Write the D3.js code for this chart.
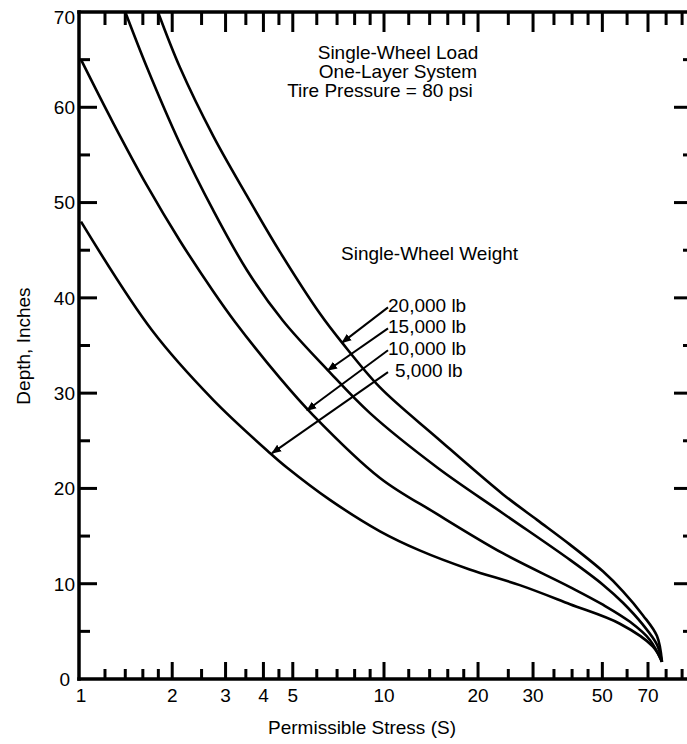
<!DOCTYPE html>
<html><head><meta charset="utf-8">
<script src="https://cdn.jsdelivr.net/npm/d3@7"></script>
<style>
body{margin:0;background:#fff}
svg{display:block}
text{font-family:"Liberation Sans",Arial,Helvetica,sans-serif;fill:#000}
</style>
</head><body>
<svg id="chart" width="687" height="744"></svg>
<script>
// ---- data ----
const weights = ["20,000 lb", "15,000 lb", "10,000 lb", "5,000 lb"];

const stress20k = [1.795, 2.12, 2.73, 3.53, 4.54, 6.16, 7.27, 9.7, 14.8, 24.0, 30.9, 39.4, 50.2, 58.2, 67.4, 74.8, 77.6];
const depth20k  = [70,    64.2, 57.0, 50.7, 44.8, 38.3, 35.3, 30.6, 25.3, 19.4, 16.7, 14.1, 11.3, 9.2, 6.7, 4.5, 1.8];

const stress15k = [1.40, 1.65, 2.12, 2.73, 3.53, 4.64, 6.53, 8.99, 14.8, 24.0, 39.4, 50.2, 58.2, 67.4, 74.8, 77.6];
const depth15k  = [70,   64.2, 56.2, 49.2, 42.9, 37.6, 32.4, 27.9, 22.2, 17.4, 12.5, 9.9, 8.0, 5.7, 3.6, 1.8];

const stress10k = [1.0, 1.275, 1.65, 2.12, 2.73, 3.22, 4.53, 5.83, 9.7, 14.8, 24.0, 39.4, 50.2, 61.3, 71.0, 77.6];
const depth10k  = [65,  58.4,  51.8, 46.0, 40.7, 37.5, 31.6, 27.7, 21.1, 17.3, 13.2, 9.65, 7.8, 6.0, 4.1, 1.8];

const stress5k = [1.0, 1.715, 2.73, 4.21, 4.78, 6.63, 9.7, 13.0, 18.8, 27.2, 39.4, 56.9, 72.6, 77.6];
const depth5k  = [48,  36.6,  29.3, 23.7, 22.2, 18.8, 15.5, 13.5, 11.5, 9.85, 7.85, 5.8, 3.4, 1.8];

const xLabelTicks = [1, 2, 3, 4, 5, 10, 20, 30, 50, 70];
const xMajorTicks = [2, 3, 4, 5, 10, 20, 30, 50, 70];
const xMinorTicks = [1.2, 1.4, 1.6, 1.8, 2.5, 3.5, 4.5, 6, 7, 8, 9, 12, 14, 16, 18, 25, 35, 40, 45, 60, 80, 90];
const yLabelTicks = [0, 10, 20, 30, 40, 50, 60, 70];
const yMinorTicks = [5, 15, 25, 35, 45, 55, 65];

const titleLines = ["Single-Wheel Load", "One-Layer System", "Tire Pressure = 80 psi"];
const legendTitle = "Single-Wheel Weight";
const xTitle = "Permissible Stress (S)";
const yTitle = "Depth, Inches";

// annotation arrows (tip on curve, tail at label), in data units
const arrowTipStress  = [7.27, 6.53, 5.57, 4.27];
const arrowTipDepth   = [35.3, 32.4, 28.2, 23.7];
const arrowTailStress = [10.3, 10.3, 10.3, 10.3];
const arrowTailDepth  = [39.0, 36.8, 34.5, 32.2];

// ---- scales ----
const x = d3.scaleLog().domain([1, 10, 70]).range([81, 384, 648]);
const y = d3.scaleLinear().domain([0, 70]).range([679, 12]);

const svg = d3.select("#chart");
const FS = 19;

const series = [
  {s: stress20k, d: depth20k},
  {s: stress15k, d: depth15k},
  {s: stress10k, d: depth10k},
  {s: stress5k,  d: depth5k}
];

// frame
const xLeft = 79, xRight = 691, yTop = y(70), yBot = y(0);
const frame = svg.append("g").attr("stroke", "#000").attr("stroke-linecap", "square");
frame.append("line").attr("x1", xLeft).attr("x2", xLeft).attr("y1", yTop).attr("y2", yBot).attr("stroke-width", 3.5);
frame.append("line").attr("x1", xLeft).attr("x2", xRight).attr("y1", yTop).attr("y2", yTop).attr("stroke-width", 3.5);
frame.append("line").attr("x1", xLeft).attr("x2", xRight).attr("y1", yBot).attr("y2", yBot).attr("stroke-width", 3.5);
frame.append("line").attr("x1", xRight).attr("x2", xRight).attr("y1", yTop).attr("y2", yBot).attr("stroke-width", 3.5);

// bottom & top ticks
const tk = svg.append("g").attr("stroke", "#000").attr("stroke-width", 3);
tk.selectAll(".bmaj").data(xMajorTicks).join("line").attr("class", "bmaj")
  .attr("x1", d => x(d)).attr("x2", d => x(d)).attr("y1", yBot).attr("y2", yBot - 17);
tk.selectAll(".bmin").data(xMinorTicks).join("line").attr("class", "bmin")
  .attr("x1", d => x(d)).attr("x2", d => x(d)).attr("y1", yBot).attr("y2", yBot - 10);
tk.selectAll(".tmaj").data(xMajorTicks).join("line").attr("class", "tmaj")
  .attr("x1", d => x(d)).attr("x2", d => x(d)).attr("y1", yTop).attr("y2", yTop + 20);
tk.selectAll(".tmin").data(xMinorTicks).join("line").attr("class", "tmin")
  .attr("x1", d => x(d)).attr("x2", d => x(d)).attr("y1", yTop).attr("y2", yTop + 13);
// left & right ticks
tk.selectAll(".lmaj").data(yLabelTicks.filter(v => v > 0 && v < 70)).join("line").attr("class", "lmaj")
  .attr("x1", xLeft).attr("x2", xLeft + 18).attr("y1", d => y(d)).attr("y2", d => y(d));
tk.selectAll(".lmin").data(yMinorTicks).join("line").attr("class", "lmin")
  .attr("x1", xLeft).attr("x2", xLeft + 11).attr("y1", d => y(d)).attr("y2", d => y(d));
tk.selectAll(".rmaj").data(yLabelTicks.filter(v => v > 0 && v < 70)).join("line").attr("class", "rmaj")
  .attr("x1", xRight).attr("x2", xRight - 17).attr("y1", d => y(d)).attr("y2", d => y(d));
tk.selectAll(".rmin").data(yMinorTicks).join("line").attr("class", "rmin")
  .attr("x1", xRight).attr("x2", xRight - 8).attr("y1", d => y(d)).attr("y2", d => y(d));

// tick labels
svg.append("g").selectAll("text").data(xLabelTicks).join("text")
  .attr("x", d => x(d)).attr("y", 702).attr("text-anchor", "middle")
  .style("font-size", FS + "px").text(d => d);
svg.append("g").selectAll("text").data(yLabelTicks).join("text")
  .attr("x", d => d === 0 ? 70 : 75).attr("y", d => y(d) + (d === 70 ? 5 : 0))
  .attr("dy", "0.36em").attr("text-anchor", "end")
  .style("font-size", FS + "px").text(d => d);

// axis titles
svg.append("text").attr("x", 362).attr("y", 734).attr("text-anchor", "middle")
  .style("font-size", FS + "px").text(xTitle);
svg.append("text").attr("transform", "translate(30,346) rotate(-90)").attr("text-anchor", "middle")
  .style("font-size", FS + "px").text(yTitle);

// curves
const line = d3.line().x(d => x(d[0])).y(d => y(d[1])).curve(d3.curveCatmullRom.alpha(0.5));
svg.append("g").selectAll("path").data(series).join("path")
  .attr("d", sr => line(sr.s.map((v, i) => [v, sr.d[i]])))
  .attr("fill", "none").attr("stroke", "#000").attr("stroke-width", 2.6);

// title block
svg.append("g").selectAll("text").data(titleLines).join("text")
  .attr("x", (d, i) => i < 2 ? 398 : 380).attr("y", (d, i) => 59 + i * 19.2)
  .attr("text-anchor", "middle").style("font-size", FS + "px").text(d => d);
svg.append("text").attr("x", 341).attr("y", 260).style("font-size", FS + "px").text(legendTitle);

// arrow marker
svg.append("defs").append("marker").attr("id", "ah")
  .attr("viewBox", "0 0 10 10").attr("refX", 9).attr("refY", 5)
  .attr("markerWidth", 5).attr("markerHeight", 5).attr("markerUnits", "strokeWidth")
  .attr("orient", "auto")
  .append("path").attr("d", "M0,1 L10,5 L0,9 Z").attr("fill", "#000");

svg.append("g").selectAll("line").data(weights).join("line")
  .attr("x1", (d, i) => x(arrowTailStress[i])).attr("y1", (d, i) => y(arrowTailDepth[i]))
  .attr("x2", (d, i) => x(arrowTipStress[i])).attr("y2", (d, i) => y(arrowTipDepth[i]))
  .attr("stroke", "#000").attr("stroke-width", 2).attr("marker-end", "url(#ah)");

svg.append("g").selectAll("text").data(weights).join("text")
  .attr("x", (d, i) => x(arrowTailStress[i]) + (i === 3 ? 7 : 0))
  .attr("y", (d, i) => y(arrowTailDepth[i]) + 5)
  .style("font-size", FS + "px").text(d => d);
</script>
</body></html>
